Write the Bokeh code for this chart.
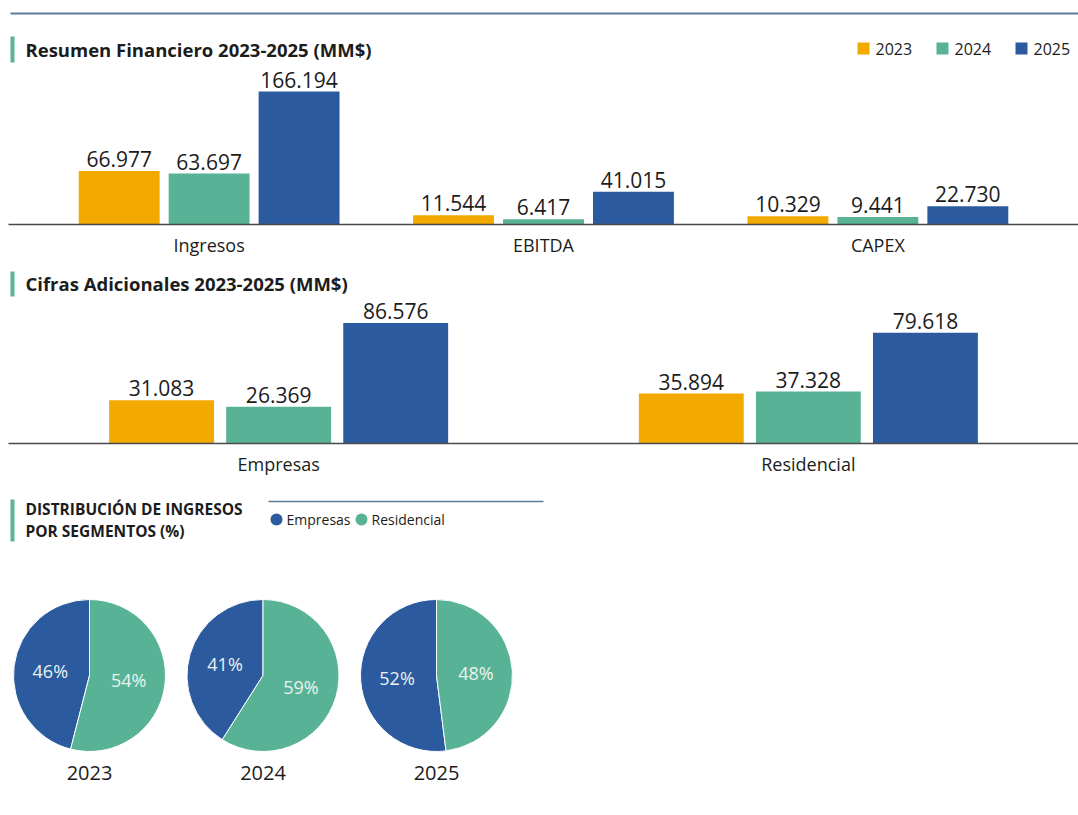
import numpy as np
from bokeh.plotting import figure
from bokeh.models import Range1d, FactorRange, ColumnDataSource
from bokeh.layouts import column
from bokeh.transform import dodge
from bokeh.core.properties import value
from bokeh.embed import file_html
from bokeh.resources import INLINE

# ---------------- data ----------------
years = ["2023", "2024", "2025"]

fin_categories = ["Ingresos", "EBITDA", "CAPEX"]
fin_2023 = [66.977, 11.544, 10.329]
fin_2024 = [63.697, 6.417, 9.441]
fin_2025 = [166.194, 41.015, 22.730]

add_categories = ["Empresas", "Residencial"]
add_2023 = [31.083, 35.894]
add_2024 = [26.369, 37.328]
add_2025 = [86.576, 79.618]

pie_years = ["2023", "2024", "2025"]
pie_segments = ["Empresas", "Residencial"]
pie_empresas = [46, 41, 52]
pie_residencial = [54, 59, 48]

title_fin = "Resumen Financiero 2023-2025 (MM$)"
title_add = "Cifras Adicionales 2023-2025 (MM$)"
title_pie = ["DISTRIBUCIÓN DE INGRESOS", "POR SEGMENTOS (%)"]

# ---------------- style ----------------
FONT = value("Open Sans")
C_YEAR = ["#F2A900", "#58B295", "#2C5A9E"]
C_SEG = ["#2C5A9E", "#58B295"]
C_TEXT = "#1c1c1c"
C_ACCENT = "#5DB396"
C_RULE = "#5F7C99"
W = 1078      # total width
L = 8         # left border of every frame
FW = W - L    # frame width


def base_fig(frame_h, x_range, y_range, bottom=0):
    p = figure(frame_width=FW, frame_height=frame_h, x_range=x_range, y_range=y_range,
               output_backend="svg", toolbar_location=None, tools="",
               min_border_left=L, min_border_right=0, min_border_top=0,
               min_border_bottom=bottom)
    p.outline_line_color = None
    p.grid.visible = False
    p.background_fill_color = "white"
    p.border_fill_color = "white"
    return p


def bar_chart(cats, vals, frame_h, ymax, pad, width, offset, top_ref, base_ref, bottom):
    p = base_fig(frame_h,
                 FactorRange(*cats, range_padding=pad, range_padding_units="absolute"),
                 Range1d(0, ymax), bottom=bottom)
    p.extra_y_ranges = {"px": Range1d(-base_ref, -top_ref)}
    src = ColumnDataSource(dict(cat=cats,
                                v0=vals[0], v1=vals[1], v2=vals[2],
                                t0=[f"{v:.3f}" for v in vals[0]],
                                t1=[f"{v:.3f}" for v in vals[1]],
                                t2=[f"{v:.3f}" for v in vals[2]]))
    for i, off in enumerate([-offset, 0, offset]):
        p.vbar(x=dodge("cat", off, range=p.x_range), top=f"v{i}", width=width,
               source=src, color=C_YEAR[i], line_color=None)
        p.text(x=dodge("cat", off, range=p.x_range), y=f"v{i}", text=f"t{i}", source=src,
               text_align="center", text_baseline="bottom", y_offset=-4,
               text_font=FONT, text_font_size="21px", text_color=C_TEXT)
    p.yaxis.visible = False
    ax = p.xaxis
    ax.axis_line_color = "#4a4a4a"
    ax.axis_line_width = 1.5
    ax.major_tick_line_color = None
    ax.minor_tick_line_color = None
    ax.major_tick_out = 0
    ax.major_tick_in = 0
    ax.major_label_standoff = 8
    ax.major_label_text_font = "Open Sans"
    ax.major_label_text_font_size = "18px"
    ax.major_label_text_color = C_TEXT
    # converter from page x position to the synthetic categorical coordinate
    n = len(cats)
    p._sx = lambda xr: -pad + (xr - L) / FW * (n + 2 * pad)
    return p


def header(p, ytop, ybot, ytext, title):
    sx = p._sx
    p.quad(left=[sx(10)], right=[sx(14)], top=[-ytop], bottom=[-ybot], color=C_ACCENT,
           line_color=None, y_range_name="px")
    p.text(x=[sx(25)], y=[-ytext], text=[title], text_font=FONT, text_font_size="18.5px",
           text_font_style="bold", text_color=C_TEXT, text_baseline="middle",
           y_range_name="px")


# ---------------- chart 1: Resumen Financiero ----------------
p1 = bar_chart(fin_categories, [fin_2023, fin_2024, fin_2025], 224, 280, 0.1,
               0.242, 0.269, 0, 224, 38)
sx1 = p1._sx
p1.segment(x0=[sx1(10)], y0=[-13], x1=[sx1(1078)], y1=[-13], line_color=C_RULE,
           line_width=2, y_range_name="px")
header(p1, 36, 62, 49, title_fin)
leg_x = [857 + i * 79 for i in range(len(years))]
p1.scatter(x=[sx1(x + 6) for x in leg_x], y=[-48] * len(years), marker="square", size=12,
           color=C_YEAR, line_color=None, y_range_name="px")
p1.text(x=[sx1(x + 18) for x in leg_x], y=[-48] * len(years), text=years, text_font=FONT,
        text_font_size="16px", text_color=C_TEXT, text_baseline="middle",
        y_range_name="px")

# ---------------- chart 2: Cifras Adicionales ----------------
p2 = bar_chart(add_categories, [add_2023, add_2024, add_2025], 181, 130, 0.01,
               0.198, 0.221, 262, 443, 39)
header(p2, 271, 296, 283, title_add)

# ---------------- chart 3: pies ----------------
p3 = base_fig(328, Range1d(L, W), Range1d(-810, -482))
p3.axis.visible = False
p3.quad(left=[10], right=[14], top=[-499], bottom=[-541], color=C_ACCENT, line_color=None)
p3.text(x=[25, 25], y=[-508, -530], text=title_pie, text_font=FONT, text_font_size="15.5px",
        text_font_style="bold", text_color=C_TEXT, text_baseline="middle")
p3.segment(x0=[268], y0=[-501], x1=[543], y1=[-501], line_color=C_RULE, line_width=1.5)
seg_x = [276, 361]
p3.scatter(x=seg_x, y=[-519, -519], marker="circle", size=12, color=C_SEG, line_color=None)
p3.text(x=[x + 10 for x in seg_x], y=[-519, -519], text=pie_segments, text_font=FONT,
        text_font_size="14px", text_color=C_TEXT, text_baseline="middle")

cx0, step, cy, r = 89, 173.5, -675, 76
for i, yr in enumerate(pie_years):
    cx = cx0 + i * step
    shares = [pie_empresas[i], pie_residencial[i]]
    tot = sum(shares)
    a0 = np.pi / 2
    starts, ends, lx, ly, labels = [], [], [], [], []
    for s in shares:
        a1 = a0 + 2 * np.pi * s / tot
        starts.append(a0)
        ends.append(a1)
        mid = (a0 + a1) / 2
        lx.append(cx + 0.52 * r * np.cos(mid))
        ly.append(cy + 0.52 * r * np.sin(mid))
        labels.append(f"{s}%")
        a0 = a1
    p3.wedge(x=[cx] * 2, y=[cy] * 2, radius=r, start_angle=starts, end_angle=ends,
             color=C_SEG, line_color="white", line_width=1)
    p3.text(x=lx, y=ly, text=labels, text_font=FONT, text_font_size="18px",
            text_color="#EAF2F0", text_align="center", text_baseline="middle")
    p3.text(x=[cx], y=[-772], text=[yr], text_font=FONT, text_font_size="20px",
            text_color=C_TEXT, text_align="center", text_baseline="middle")

layout = column(p1, p2, p3, spacing=0)
open("out.html", "w").write(file_html(layout, INLINE))
